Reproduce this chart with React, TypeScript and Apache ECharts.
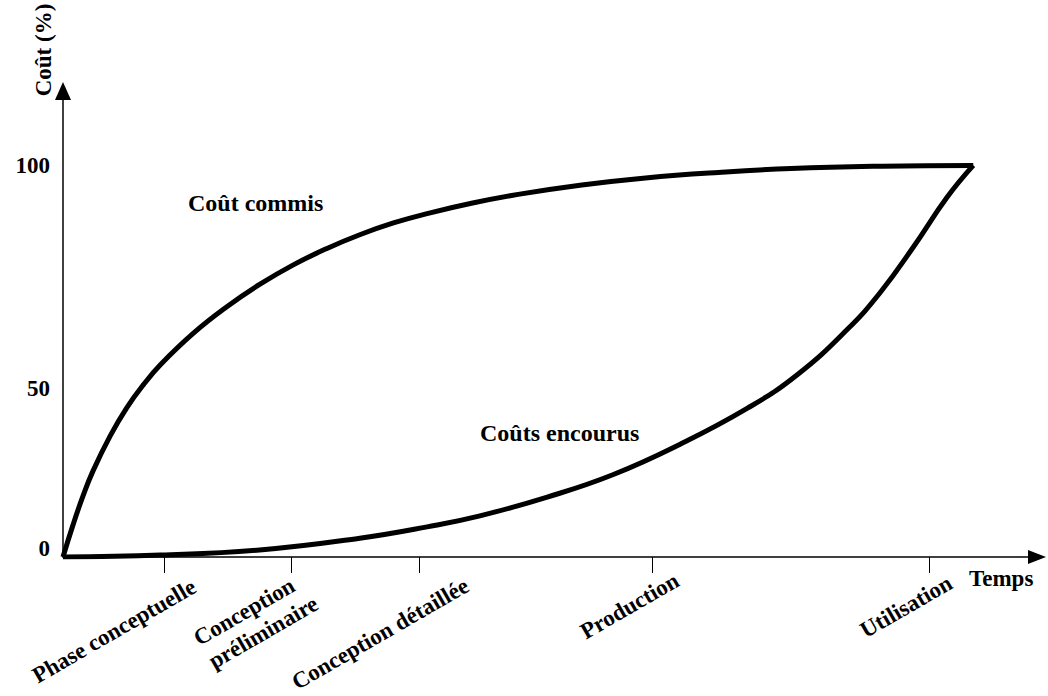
import React, { useEffect, useRef } from "react";
import * as echarts from "echarts";

// Phases (x-axis tick labels) and where their ticks sit along the time axis
const phaseLabels = [
  "Phase conceptuelle",
  "Conception\npréliminaire",
  "Conception détaillée",
  "Production",
  "Utilisation",
];
const phasePositions = [11.1, 25.1, 39.1, 64.7, 95.2];

// y-axis tick labels (%)
const yTickValues = [0, 50, 100];

// "Coût commis" curve
const commisTime = [0, 1.1, 2.2, 3.3, 5.2, 7.0, 8.8, 10.7, 14.3, 18.0, 21.6, 25.3, 29.0, 32.6, 36.3, 40.0, 45.0, 50.0, 57.0, 64.0, 72.0, 80.0, 90.0, 100];
const commisCost = [0, 8.2, 15.6, 22.0, 31.0, 38.1, 43.9, 49.1, 57.1, 63.9, 69.6, 74.6, 78.8, 82.3, 85.3, 87.7, 90.4, 92.6, 95.0, 96.8, 98.2, 99.2, 99.8, 100];

// "Coûts encourus" curve
const encourusTime = [0, 10.7, 21.6, 32.6, 40.0, 45.8, 53.2, 60.4, 67.8, 75.2, 80.7, 86.2, 89.8, 93.4, 97.1, 100];
const encourusCost = [0, 0.5, 1.8, 4.8, 7.7, 10.5, 15.3, 21.0, 28.8, 38.0, 46.6, 58.2, 67.6, 79.1, 91.8, 100];

const FONT = '"Liberation Serif", "DejaVu Serif", "Times New Roman", serif';

export default function App() {
  const ref = useRef<HTMLDivElement>(null);

  useEffect(() => {
    document.body.style.margin = "0";
    if (!ref.current) return;
    const chart = echarts.init(ref.current, undefined, { renderer: "svg" });

    const labelStyles = [["ph"], ["pr1", "pr2"], ["cd"], ["pd"], ["ut"]];
    const labelFor = (v: number) => {
      const i = phasePositions.findIndex((p) => Math.abs(p - v) < 1e-6);
      if (i < 0) return "";
      return phaseLabels[i]
        .split("\n")
        .map((line, k) => `{${labelStyles[i][k]}|${line}}`)
        .join("\n");
    };

    const yLabelFor = (v: number) => {
      if (v === 50) return `{mid|${v}}`;
      if (v === 0) return `{low|${v}}`;
      return `{top|${v}}`;
    };

    const tickFont = { color: "#000", fontFamily: FONT, fontWeight: "bold", fontSize: 23 };
    const lh = 25;

    const option: any = {
      animation: false,
      backgroundColor: "#ffffff",
      grid: { left: 63, right: 11, top: 91, bottom: 139, containLabel: false, outerBoundsMode: "none" },
      xAxis: {
        type: "value",
        min: 0,
        max: 107,
        axisLine: {
          show: true,
          onZero: true,
          symbol: ["none", "triangle"],
          symbolSize: [14, 18],
          lineStyle: { color: "#000", width: 1.5 },
        },
        axisTick: {
          show: true,
          customValues: phasePositions,
          length: 16,
          lineStyle: { color: "#000", width: 1 },
        },
        axisLabel: {
          customValues: phasePositions,
          formatter: labelFor,
          rotate: 30,
          margin: 36,
          padding: [0, -24, 0, 0],
          ...tickFont,
          lineHeight: lh,
          rich: {
            ph: { ...tickFont, lineHeight: lh, padding: [16, -6, 0, 0] },
            pr1: { ...tickFont, lineHeight: lh, padding: [10, 18, 0, 0] },
            pr2: { ...tickFont, lineHeight: lh, padding: [15, 7, 0, 0] },
            cd: { ...tickFont, lineHeight: lh, padding: [32, -22, 0, 0] },
            pd: { ...tickFont, lineHeight: lh, padding: [0, -5, 0, 0] },
            ut: { ...tickFont, lineHeight: lh, padding: [0, 0, 0, 0] },
          },
        },
        splitLine: { show: false },
        name: "Temps",
        nameLocation: "end",
        nameGap: -68,
        nameTextStyle: {
          color: "#000",
          fontFamily: FONT,
          fontWeight: "bold",
          fontSize: 23,
          align: "left",
          verticalAlign: "top",
          padding: [10, 0, 0, 0],
        },
      },
      yAxis: {
        type: "value",
        min: 0,
        max: 119,
        axisLine: {
          show: true,
          symbol: ["none", "triangle"],
          symbolSize: [16, 18],
          lineStyle: { color: "#000", width: 1.5 },
        },
        axisTick: { show: false },
        axisLabel: {
          customValues: yTickValues,
          formatter: yLabelFor,
          margin: 13,
          ...tickFont,
          rich: {
            top: { ...tickFont },
            mid: { ...tickFont, padding: [54, 0, 0, 0] },
            low: { ...tickFont, padding: [0, 0, 18, 0] },
          },
        },
        splitLine: { show: false },
      },
      graphic: [
        {
          type: "text",
          x: 43,
          y: 50,
          rotation: Math.PI / 2,
          style: {
            text: "Coût (%)",
            fill: "#000",
            font: `bold 23px ${FONT}`,
            align: "center",
            verticalAlign: "middle",
          },
        },
        {
          type: "text",
          x: 188,
          y: 203,
          style: {
            text: "Coût commis",
            fill: "#000",
            font: `bold 24px ${FONT}`,
            align: "left",
            verticalAlign: "middle",
          },
        },
        {
          type: "text",
          x: 480,
          y: 433,
          style: {
            text: "Coûts encourus",
            fill: "#000",
            font: `bold 24px ${FONT}`,
            align: "left",
            verticalAlign: "middle",
          },
        },
      ],
      series: [
        {
          name: "Coût commis",
          type: "line",
          data: commisTime.map((t, i) => [t, commisCost[i]]),
          smooth: 0.45,
          showSymbol: false,
          lineStyle: { color: "#000", width: 5 },
        },
        {
          name: "Coûts encourus",
          type: "line",
          data: encourusTime.map((t, i) => [t, encourusCost[i]]),
          smooth: 0.45,
          showSymbol: false,
          lineStyle: { color: "#000", width: 5 },
        },
      ],
    };

    chart.setOption(option);
    return () => chart.dispose();
  }, []);

  return <div ref={ref} style={{ width: 1048, height: 696 }} />;
}
